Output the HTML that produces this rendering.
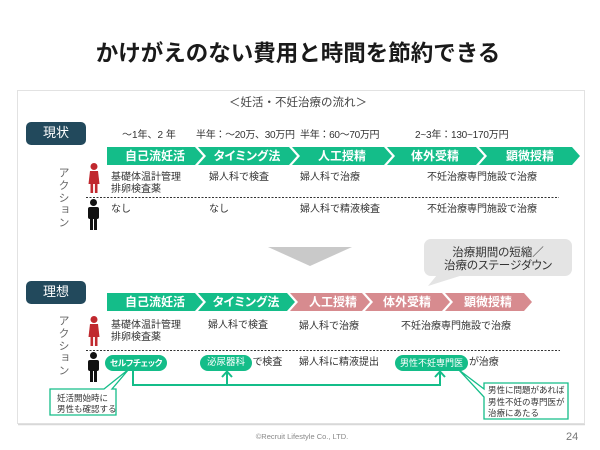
<!DOCTYPE html>
<html><head><meta charset="utf-8">
<style>
*{margin:0;padding:0;box-sizing:border-box}
html,body{width:600px;height:450px;background:#fff;overflow:hidden}
#c{position:relative;width:600px;height:450px;background:#fff;font-family:"Liberation Sans","Noto Sans CJK JP",sans-serif;color:#333}
.t{position:absolute;white-space:nowrap;line-height:14px;height:14px;font-size:10px}
.cv{position:absolute;white-space:nowrap;line-height:18px;height:18px;font-size:12px;font-weight:bold;color:#fff;text-align:center;width:100px;font-feature-settings:"palt"}
.p{font-feature-settings:"palt"}
.vt{position:absolute;writing-mode:vertical-rl;font-size:11px;letter-spacing:1.3px;color:#666;line-height:12px;width:12px}
svg{position:absolute;left:0;top:0}
</style></head><body><div id="c">
<svg width="600" height="450" viewBox="0 0 600 450">
  <rect x="17.5" y="90.5" width="567" height="333" fill="#fff" stroke="#e2e2e2" stroke-width="1"/>
  <line x1="18" y1="424.5" x2="585" y2="424.5" stroke="#d8d8d8" stroke-width="1.5"/>
  <rect x="26" y="122" width="60" height="23" rx="5" fill="#22495c"/>
  <rect x="26" y="281" width="60" height="23" rx="5" fill="#22495c"/>
  <g fill="#14bd89">
    <polygon points="107,147 195,147 203,156 195,165 107,165"/>
    <polygon points="198,147 289,147 297,156 289,165 198,165 206,156"/>
    <polygon points="292,147 384,147 392,156 384,165 292,165 300,156"/>
    <polygon points="387,147 476,147 484,156 476,165 387,165 395,156"/>
    <polygon points="479,147 572,147 580,156 572,165 479,165 487,156"/>
  </g>
  <g fill="#14bd89">
    <polygon points="107,293 195,293 203,302 195,311 107,311"/>
    <polygon points="198,293 287,293 295,302 287,311 198,311 206,302"/>
  </g>
  <g fill="#d78b8f">
    <polygon points="290,293 362,293 370,302 362,311 290,311 298,302"/>
    <polygon points="365,293 442,293 450,302 442,311 365,311 373,302"/>
    <polygon points="445,293 524,293 532,302 524,311 445,311 453,302"/>
  </g>
  <line x1="86" y1="197.5" x2="559" y2="197.5" stroke="#333" stroke-width="1" stroke-dasharray="2,1.5"/>
  <line x1="86" y1="350.5" x2="560" y2="350.5" stroke="#333" stroke-width="1" stroke-dasharray="2,1.5"/>
  <g fill="#c0282e">
    <circle cx="94" cy="166.5" r="3.5"/>
    <path d="M90,171 L98,171 L99.5,184 L88.5,184 Z"/>
    <rect x="90.5" y="184" width="2.6" height="9"/>
    <rect x="94.9" y="184" width="2.6" height="9"/>
    <circle cx="94" cy="319.5" r="3.5"/>
    <path d="M90,324 L98,324 L99.5,337 L88.5,337 Z"/>
    <rect x="90.5" y="337" width="2.6" height="9"/>
    <rect x="94.9" y="337" width="2.6" height="9"/>
  </g>
  <g fill="#111">
    <circle cx="93.5" cy="202.5" r="3.5"/>
    <rect x="88" y="207" width="11" height="12" rx="2"/>
    <rect x="90" y="217" width="3" height="13"/>
    <rect x="94" y="217" width="3" height="13"/>
    <circle cx="93.5" cy="355.5" r="3.5"/>
    <rect x="88" y="360" width="11" height="11" rx="2"/>
    <rect x="90" y="369" width="3" height="13"/>
    <rect x="94" y="369" width="3" height="13"/>
  </g>
  <polygon points="268,247 352,247 310,266" fill="#c9c9c9"/>
  <rect x="424" y="239" width="148" height="37" rx="7" fill="#e4e4e4"/>
  <polygon points="437,275 463,275 428,286" fill="#e4e4e4"/>
  <rect x="105" y="355" width="62" height="16" rx="8" fill="#14bd89"/>
  <rect x="200" y="355" width="52" height="16" rx="8" fill="#14bd89"/>
  <rect x="395" y="355" width="73" height="16" rx="8" fill="#14bd89"/>
  <g fill="none" stroke="#14bd89" stroke-width="2">
    <path d="M133,371 V385 H440 V372"/>
    <path d="M227,385 V372"/>
    <path d="M222,377 L227,371.5 L232,377"/>
    <path d="M435,377 L440,371.5 L445,377"/>
  </g>
  <path d="M50,389 H104 L129,369 L112,389 H116 V415 H50 Z" fill="#fff" stroke="#14bd89" stroke-width="1.3"/>
  <path d="M484,383 H568 V419 H484 V397 L459,370 L484,389 Z" fill="#fff" stroke="#14bd89" stroke-width="1.3"/>
</svg>

<div class="t" style="left:0;width:596px;text-align:center;top:40px;height:28px;line-height:28px;font-size:22.5px;font-weight:bold;color:#1a1a1a">かけがえのない費用と時間を節約できる</div>
<div class="t" style="left:0;width:596px;text-align:center;top:96px;font-size:11.5px;color:#444">＜妊活・不妊治療の流れ＞</div>

<div class="t" style="left:26px;width:60px;text-align:center;top:124px;height:18px;line-height:18px;font-size:13px;color:#fff">現状</div>
<div class="t" style="left:26px;width:60px;text-align:center;top:283px;height:18px;line-height:18px;font-size:13px;color:#fff">理想</div>

<div class="t" style="left:122px;top:129px">～1年、2 年</div>
<div class="t" style="left:196px;top:129px;letter-spacing:-0.3px">半年：～20万、30万円</div>
<div class="t" style="left:300px;top:129px;letter-spacing:-0.3px">半年：60～70万円</div>
<div class="t" style="left:415px;top:129px;letter-spacing:-0.2px">2~3年：130~170万円</div>

<div class="cv" style="left:105px;top:147px">自己流妊活</div>
<div class="cv" style="left:197px;top:147px">タイミング法</div>
<div class="cv" style="left:292px;top:147px">人工授精</div>
<div class="cv" style="left:385px;top:147px">体外受精</div>
<div class="cv" style="left:480px;top:147px">顕微授精</div>

<div class="cv" style="left:105px;top:293px">自己流妊活</div>
<div class="cv" style="left:196px;top:293px">タイミング法</div>
<div class="cv" style="left:283px;top:293px">人工授精</div>
<div class="cv" style="left:357px;top:293px">体外受精</div>
<div class="cv" style="left:438px;top:293px">顕微授精</div>

<div class="vt" style="left:57px;top:167px">アクション</div>
<div class="vt" style="left:57px;top:315px">アクション</div>

<div class="t" style="left:111px;top:171px">基礎体温計管理</div>
<div class="t" style="left:111px;top:183px">排卵検査薬</div>
<div class="t" style="left:209px;top:171px">婦人科で検査</div>
<div class="t" style="left:300px;top:171px">婦人科で治療</div>
<div class="t" style="left:427px;top:171px">不妊治療専門施設で治療</div>
<div class="t" style="left:111px;top:203px">なし</div>
<div class="t" style="left:209px;top:203px">なし</div>
<div class="t" style="left:300px;top:203px">婦人科で精液検査</div>
<div class="t" style="left:427px;top:203px">不妊治療専門施設で治療</div>

<div class="t p" style="left:424px;width:148px;text-align:center;top:246px;font-size:11.5px;color:#333">治療期間の短縮／</div>
<div class="t p" style="left:424px;width:148px;text-align:center;top:259px;font-size:11.5px;color:#333">治療のステージダウン</div>

<div class="t" style="left:111px;top:319px">基礎体温計管理</div>
<div class="t" style="left:111px;top:331px">排卵検査薬</div>
<div class="t" style="left:208px;top:319px">婦人科で検査</div>
<div class="t" style="left:299px;top:320px">婦人科で治療</div>
<div class="t" style="left:401px;top:320px">不妊治療専門施設で治療</div>

<div class="t p" style="left:105px;width:62px;text-align:center;top:356px;font-size:8.5px;font-weight:bold;color:#fff;letter-spacing:-0.3px">セルフチェック</div>
<div class="t" style="left:200px;width:52px;text-align:center;top:356px;font-size:9.5px;color:#fff">泌尿器科</div>
<div class="t p" style="left:253px;top:356px">で検査</div>
<div class="t" style="left:299px;top:356px">婦人科に精液提出</div>
<div class="t" style="left:395px;width:73px;text-align:center;top:356px;font-size:9px;color:#fff">男性不妊専門医</div>
<div class="t p" style="left:469px;top:356px">が治療</div>

<div class="t" style="left:57px;top:391px;font-size:8.5px;line-height:14px">妊活開始時に</div>
<div class="t" style="left:57px;top:402px;font-size:8.5px;line-height:14px">男性も確認する</div>
<div class="t" style="left:488px;top:383px;font-size:8.5px">男性に問題があれば</div>
<div class="t" style="left:488px;top:395px;font-size:8.5px">男性不妊の専門医が</div>
<div class="t" style="left:488px;top:406px;font-size:8.5px">治療にあたる</div>

<div class="t" style="left:0;width:604px;text-align:center;top:430px;font-size:7.5px;color:#888">©Recruit Lifestyle Co., LTD.</div>
<div class="t" style="left:566px;top:430px;font-size:11px;color:#777">24</div>
</div></body></html>
